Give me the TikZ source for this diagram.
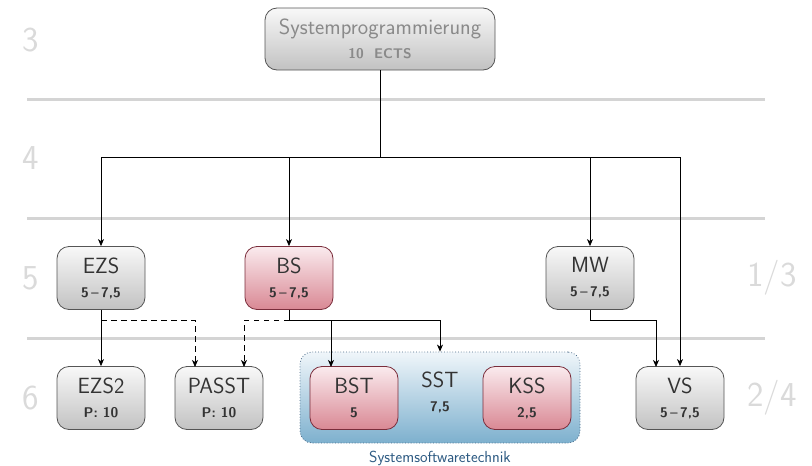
\documentclass[tikz,border=0pt]{standalone}
\usepackage{fontspec}
\usetikzlibrary{arrows.meta,calc}
\definecolor{sepgray}{HTML}{D4D4D4}
\definecolor{labgray}{HTML}{DADADA}
\definecolor{boxdraw}{HTML}{555555}
\definecolor{boxtop}{HTML}{F8F8F8}
\definecolor{boxbot}{HTML}{C2C2C2}
\definecolor{redtop}{HTML}{FAEBEE}
\definecolor{redbot}{HTML}{D98894}
\definecolor{reddraw}{HTML}{7A2D3B}
\definecolor{bluetop}{HTML}{F0F6FA}
\definecolor{bluebot}{HTML}{7DB0CE}
\definecolor{bluedraw}{HTML}{4A6A88}
\definecolor{bluetext}{HTML}{2D5A82}
\definecolor{txt}{HTML}{333333}
\definecolor{toptxt}{HTML}{8A8A8A}
\newcommand{\sub}[1]{{\fontsize{14}{16}\selectfont\bfseries #1}}
\begin{document}
\begin{tikzpicture}[x=1pt,y=-1pt,font=\sffamily,
  sepline/.style={draw=sepgray,line width=3pt},
  rowlab/.style={text=labgray,font=\sffamily\fontsize{35}{38}\selectfont,inner sep=0pt},
  box/.style={draw=boxdraw,line width=0.8pt,rounded corners=12pt,minimum width=88pt,minimum height=63pt,
    top color=boxtop,bottom color=boxbot,align=center,text=txt,inner sep=2pt,
    font=\sffamily\fontsize{22}{24}\selectfont},
  redbox/.style={box,draw=reddraw,top color=redtop,bottom color=redbot},
  arr/.style={-{Stealth[length=7pt,width=6pt,inset=2pt]},line width=0.8pt},
  con/.style={line width=0.8pt},
  dashcon/.style={arr,dash pattern=on 5.5pt off 4.5pt}
]
\useasboundingbox (0,0) rectangle (812,466);
% separators
\draw[sepline] (27,99) -- (765,99);
\draw[sepline] (27,218) -- (765,218);
\draw[sepline] (27,338) -- (765,338);
% row labels
\node[rowlab] (r3) at (31,40) {3};
\node[rowlab] (r4) at (31,158) {4};
\node[rowlab] (r5) at (31,278) {5};
\node[rowlab] (r6) at (31,398) {6};
\node[rowlab] (r13) at (772,278) {1/3};
\node[rowlab] (r24) at (772,398) {2/4};
% top node
\node[box,minimum width=230pt,minimum height=62pt,text=toptxt] (sp) at (380,39)
  {Systemprogrammierung\\\sub{10\ \ ECTS}};
% row 5
\node[box] (ezs) at (101,278) {EZS\\\sub{5\,–\,7,5}};
\node[redbox] (bs) at (289,278) {BS\\\sub{5\,–\,7,5}};
\node[box] (mw) at (590,278) {MW\\\sub{5\,–\,7,5}};
% row 6
\node[box] (ezs2) at (101,398) {EZS2\\\sub{P:\ 10}};
\node[box] (passt) at (219,398) {PASST\\\sub{P:\ 10}};
\node[draw=bluedraw,dotted,line width=0.8pt,rounded corners=12pt,minimum width=280pt,minimum height=91pt,
  top color=bluetop,bottom color=bluebot] (sst) at (440,397.5) {};
\node[text=txt,align=center,font=\sffamily\fontsize{22}{24}\selectfont] (ssttxt) at (440,392) {SST\\\sub{7,5}};
\node[text=bluetext,font=\sffamily\fontsize{16}{18}\selectfont] (sstlab) at (440,458) {Systemsoftwaretechnik};
\node[redbox] (bst) at (354,398) {BST\\\sub{5}};
\node[redbox] (kss) at (527,398) {KSS\\\sub{2,5}};
\node[box] (vs) at (680,398) {VS\\\sub{5\,–\,7,5}};
% connectors from top
\coordinate (j) at (380,157);
\draw[con] (sp.south) -- (j);
\draw[arr] (j) -| (ezs.north);
\draw[arr] (j) -| (bs.north);
\draw[arr] (j) -| (mw.north);
\draw[arr] (j) -| (vs.north);
% EZS -> EZS2
\draw[arr] (ezs.south) -- (ezs2.north);
% dashed to PASST
\coordinate (ezsd) at (101,320);
\coordinate (pa1) at (195,367);
\draw[dashcon] (ezsd) -| (pa1);
\coordinate (bsd) at (289,320);
\coordinate (pa2) at (244,367);
\draw[dashcon] (bsd) -| (pa2);
% BS -> SST, BST
\draw[con] (bs.south) -- (bsd);
\draw[arr] (bsd) -| (sst.north);
\coordinate (bstin) at (331,367);
\coordinate (bstj) at (331,320);
\draw[arr] (bstj) -- (bstin);
% MW -> VS
\coordinate (mwd) at (590,320);
\coordinate (vsin) at (656,367);
\draw[con] (mw.south) -- (mwd);
\draw[arr] (mwd) -| (vsin);
\end{tikzpicture}
\end{document}
